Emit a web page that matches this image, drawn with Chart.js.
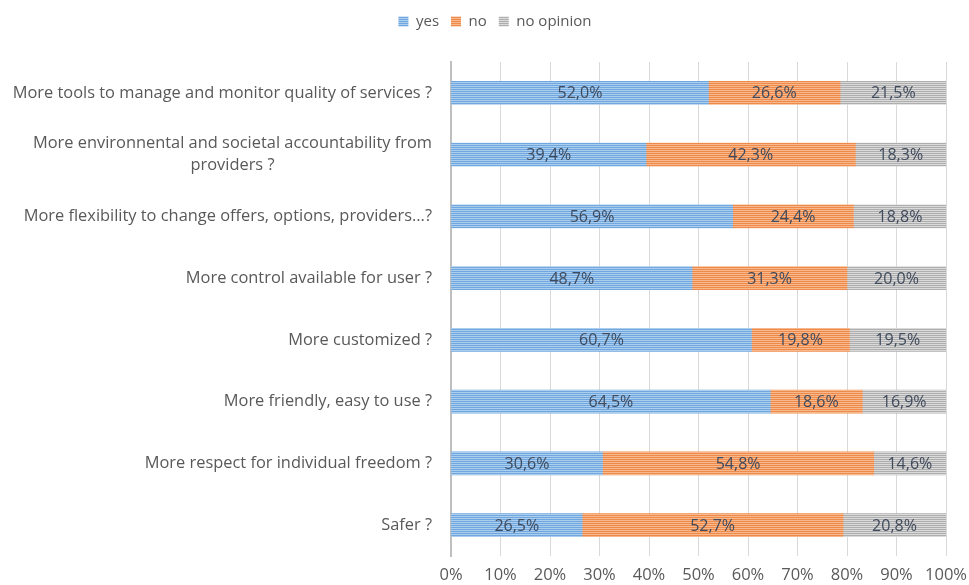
<!DOCTYPE html>
<html>
<head>
<meta charset="utf-8">
<script src="https://cdn.jsdelivr.net/npm/chart.js@4/dist/chart.umd.min.js"></script>
<style>
  html, body { margin: 0; padding: 0; background: #fff; }
  #wrap { width: 969px; height: 585px; }
</style>
</head>
<body>
<div id="wrap"><canvas id="chart"></canvas></div>
<script>
// --- data ---
const questions = [
  "More tools to manage and monitor quality of services ?",
  ["More environnental and societal accountability from", "providers ?"],
  "More flexibility to change offers, options, providers...?",
  "More control available for user ?",
  "More customized ?",
  "More friendly, easy to use ?",
  "More respect for individual freedom ?",
  "Safer ?"
];
const yesValues       = [52.0, 39.4, 56.9, 48.7, 60.7, 64.5, 30.6, 26.5];
const noValues        = [26.6, 42.3, 24.4, 31.3, 19.8, 18.6, 54.8, 52.7];
const noOpinionValues = [21.5, 18.3, 18.8, 20.0, 19.5, 16.9, 14.6, 20.8];
const seriesNames = ["yes", "no", "no opinion"];

const FONT = "'Open Sans', Lato, sans-serif";

// striped fill like the original (thin horizontal lines)
function stripes(light, dark) {
  const c = document.createElement("canvas");
  c.width = 4; c.height = 2;
  const g = c.getContext("2d");
  g.fillStyle = light; g.fillRect(0, 0, 4, 1);
  g.fillStyle = dark;  g.fillRect(0, 1, 4, 1);
  return g.createPattern(c, "repeat");
}

const ctx2d = document.getElementById("chart").getContext("2d");
const fills = [
  stripes("#abcdee", "#6fa7de"),
  stripes("#f7b88e", "#ee8b4a"),
  stripes("#dadada", "#aeaeae")
];

// labels in the middle of each segment
const segmentLabels = {
  id: "segmentLabels",
  afterDatasetsDraw(chart) {
    const c = chart.ctx;
    c.save();
    c.font = "16px " + FONT;
    c.fillStyle = "#3f4a5c";
    c.textAlign = "center";
    c.textBaseline = "middle";
    chart.data.datasets.forEach((ds, di) => {
      chart.getDatasetMeta(di).data.forEach((bar, i) => {
        const x = (bar.x + bar.base) / 2;
        c.fillText(ds.data[i].toFixed(1).replace(".", ",") + "%", x, bar.y + 1);
      });
    });
    c.restore();
  }
};

// category labels: right edge fixed, extra lines centred under the first
const categoryLabels = {
  id: "categoryLabels",
  afterDraw(chart) {
    const s = chart.scales.y;
    const c = chart.ctx;
    c.save();
    c.font = "16.4px " + FONT;
    c.fillStyle = "#595959";
    c.textAlign = "center";
    c.textBaseline = "middle";
    const right = s.right - 19;
    questions.forEach((q, i) => {
      const lines = Array.isArray(q) ? q : [q];
      const w = Math.max(...lines.map(l => c.measureText(l).width));
      const y = s.getPixelForTick(i);
      const lh = 22;
      lines.forEach((l, k) => {
        c.fillText(l, right - w / 2, y + (k - (lines.length - 1) / 2) * lh);
      });
    });
    c.restore();
  }
};

// extra space below the legend
const legendGap = {
  id: "legendGap",
  beforeInit(chart) {
    const fit = chart.legend.fit;
    chart.legend.fit = function () {
      fit.bind(chart.legend)();
      this.height += 23;
    };
  }
};

new Chart(ctx2d, {
  type: "bar",
  data: {
    labels: questions,
    datasets: [
      { label: seriesNames[0], data: yesValues,       backgroundColor: fills[0] },
      { label: seriesNames[1], data: noValues,        backgroundColor: fills[1] },
      { label: seriesNames[2], data: noOpinionValues, backgroundColor: fills[2] }
    ]
  },
  options: {
    indexAxis: "y",
    responsive: true,
    maintainAspectRatio: false,
    animation: false,
    layout: { padding: { top: 2, left: 44, right: 23, bottom: 0 } },
    datasets: { bar: { barThickness: 23, borderWidth: 0 } },
    scales: {
      x: {
        stacked: true,
        min: 0, max: 100,
        ticks: {
          stepSize: 10,
          color: "#595959",
          font: { size: 16.5, family: FONT },
          padding: 9,
          callback: v => v + "%"
        },
        grid: { color: "#d9d9d9", drawTicks: false },
        border: { display: false },
        afterFit: s => { s.height = 29; s.paddingLeft = 0; s.paddingRight = 0; }
      },
      y: {
        stacked: true,
        ticks: { display: false },
        grid: { display: false },
        border: { display: true, color: "#bfbfbf", width: 2 },
        afterFit: s => { s.width = 407; }
      }
    },
    plugins: {
      legend: {
        position: "top",
        labels: {
          boxWidth: 10, boxHeight: 10,
          color: "#595959",
          font: { size: 15, family: FONT },
          padding: 12
        }
      },
      tooltip: { enabled: false }
    }
  },
  plugins: [segmentLabels, categoryLabels, legendGap]
});
</script>
</body>
</html>
